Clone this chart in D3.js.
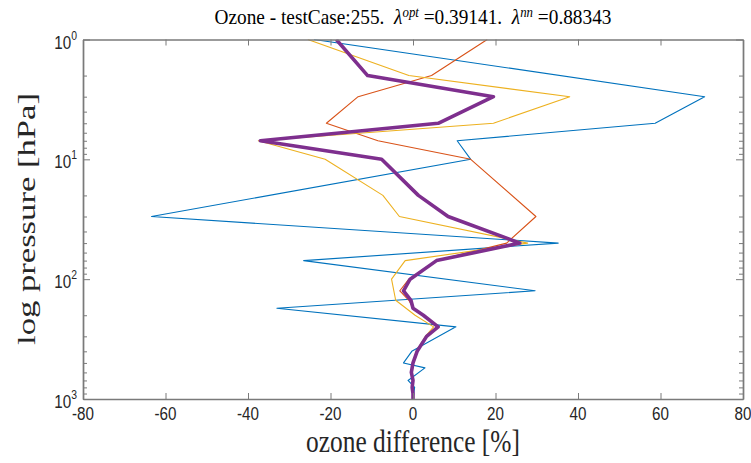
<!DOCTYPE html>
<html>
<head>
<meta charset="utf-8">
<script src="https://cdn.jsdelivr.net/npm/d3@7/dist/d3.min.js"></script>
<style>
  body { margin: 0; background: #fff; }
  svg { display: block; }
  text { white-space: pre; }
</style>
</head>
<body>
<script>
// pressure levels (hPa) shared by all profiles
var pressure = [1, 2, 3, 5, 7, 10, 20, 30, 50, 70, 100, 125, 150, 175, 200, 250, 300, 400, 500, 550, 600, 700, 800, 900, 1000]

// ozone difference [%], null = no vertex read at that level
var blueDiff   = [-24, null, 70.7, 58.7, 10.7, 14, null, -63.4, 35.2, -26.5, null, 29.6, null, -33, null, 10.4, null, -0.3, -2.3, 2.9, null, -1.2, 0.4, null, 0]
var orangeDiff = [18, 4.5, -13.3, -21, -8.5, 14, null, 29.8, 22.7, 5.5, -1, -3.2, -1, 0, 2.5, 6, 3.3, 0.8, 0, null, -0.4, 0, -0.2, 0, 0]
var yellowDiff = [-25.5, -1, 38, 19.5, -37.5, -21.3, -7.3, -3.3, 27.8, -1.9, -5.2, null, -4.2, null, 0.5, 5, 3, 0.8, 0, null, -0.4, 0, -0.2, 0, 0]
var purpleDiff = [-18.6, -11, 19.5, 6.1, -37, -7.6, 1.3, 8.5, 25.9, 5.7, -0.7, -2.3, -0.5, 0, 2.5, 6.1, 3.3, 1, 0, null, -0.4, 0, -0.2, 0, 0]

var xTicks = [-80, -60, -40, -20, 0, 20, 40, 60, 80]
var yTicks = [1, 10, 100, 1000]
var yExp   = ["0", "1", "2", "3"]

var series = [
  {values: blueDiff,   color: "#0072BD", width: 1.1},
  {values: orangeDiff, color: "#D95319", width: 1.1},
  {values: yellowDiff, color: "#EDB120", width: 1.1},
  {values: purpleDiff, color: "#7E2F8E", width: 3.6}
]

var W = 751, H = 463
var plotL = 83, plotR = 743, plotT = 39.5, plotB = 399

var svg = d3.select("body").append("svg")
  .attr("width", W).attr("height", H)

svg.append("rect").attr("width", W).attr("height", H).attr("fill", "#fff")

var x = d3.scaleLinear().domain([-80, 80]).range([plotL, plotR])
var y = d3.scaleLog().domain([1, 1000]).range([plotT, plotB])

svg.append("clipPath").attr("id", "plot-clip")
  .append("rect")
  .attr("x", plotL).attr("y", plotT)
  .attr("width", plotR - plotL).attr("height", plotB - plotT)

var line = d3.line()
  .x(function(d) { return x(d.v) })
  .y(function(d) { return y(d.p) })

var g = svg.append("g").attr("clip-path", "url(#plot-clip)")

series.forEach(function(s) {
  var pts = pressure.map(function(p, i) { return {p: p, v: s.values[i]} })
    .filter(function(d) { return d.v !== null })
  g.append("path")
    .datum(pts)
    .attr("d", line)
    .attr("fill", "none")
    .attr("stroke", s.color)
    .attr("stroke-width", s.width)
    .attr("stroke-linejoin", "round")
})

// axes (MATLAB box, ticks pointing in)
var axisColor = "#7a7a7a"
var minor = []
for (var dec = 1; dec < 1000; dec *= 10)
  for (var k = 2; k <= 9; k++) minor.push(dec * k)

function styleAxis(sel) {
  sel.select(".domain").attr("stroke", axisColor).attr("stroke-width", 1.4)
  sel.selectAll(".tick line").attr("stroke", axisColor).attr("stroke-width", 1)
  sel.selectAll(".tick text").remove()
}

svg.append("g").attr("transform", "translate(0," + plotB + ")")
  .call(d3.axisBottom(x).tickValues(xTicks).tickSizeInner(-6).tickSizeOuter(0))
  .call(styleAxis)
svg.append("g").attr("transform", "translate(0," + plotT + ")")
  .call(d3.axisTop(x).tickValues(xTicks).tickSizeInner(-6).tickSizeOuter(0))
  .call(styleAxis)
svg.append("g").attr("transform", "translate(" + plotL + ",0)")
  .call(d3.axisLeft(y).tickValues(yTicks).tickSizeInner(-7).tickSizeOuter(0))
  .call(styleAxis)
svg.append("g").attr("transform", "translate(" + plotL + ",0)")
  .call(d3.axisLeft(y).tickValues(minor).tickSizeInner(-4).tickSizeOuter(0))
  .call(styleAxis)
svg.append("g").attr("transform", "translate(" + plotR + ",0)")
  .call(d3.axisRight(y).tickValues(yTicks).tickSizeInner(-7).tickSizeOuter(0))
  .call(styleAxis)
svg.append("g").attr("transform", "translate(" + plotR + ",0)")
  .call(d3.axisRight(y).tickValues(minor).tickSizeInner(-4).tickSizeOuter(0))
  .call(styleAxis)

// text is slightly narrow in the reference: squeeze it horizontally
function label(px, py, anchor, sx, extra) {
  return svg.append("text")
    .attr("transform", "translate(" + px + "," + py + ") scale(" + sx + ",1)" + (extra || ""))
    .attr("text-anchor", anchor)
    .attr("fill", "#262626")
}

var sans = "'Liberation Sans', Arial, sans-serif"
var serif = "'Liberation Serif', 'Times New Roman', serif"

xTicks.forEach(function(t) {
  label(x(t), 420, "middle", 0.8)
    .attr("font-family", sans).attr("font-size", 19)
    .text(t < 0 ? "-" + (-t) : String(t))
})

yTicks.forEach(function(t, i) {
  var tx = label(77, y(t) + 9, "end", 0.8).attr("font-family", sans)
  tx.append("tspan").attr("font-size", 19).text("10")
  tx.append("tspan").attr("font-size", 13).attr("dy", -9).text(yExp[i])
})

var title = label(413, 24, "middle", 0.92).attr("font-family", serif).attr("font-size", 21).attr("fill", "#000")
title.append("tspan").text("Ozone - testCase:255.  ")
title.append("tspan").attr("font-style", "italic").text("λ")
title.append("tspan").attr("font-style", "italic").attr("font-size", 14).attr("dy", -7).text("opt")
title.append("tspan").attr("dy", 7).text(" =0.39141.  ")
title.append("tspan").attr("font-style", "italic").text("λ")
title.append("tspan").attr("font-style", "italic").attr("font-size", 14).attr("dy", -7).text("nn")
title.append("tspan").attr("dy", 7).text(" =0.88343")

label(413, 452, "middle", 0.82)
  .attr("font-family", serif).attr("font-size", 31)
  .text("ozone difference [%]")

label(35, 219, "middle", 0.8, " rotate(-90)")
  .attr("font-family", serif).attr("font-size", 32)
  .attr("textLength", 252).attr("lengthAdjust", "spacingAndGlyphs")
  .text("log pressure [hPa]")
</script>
</body>
</html>
